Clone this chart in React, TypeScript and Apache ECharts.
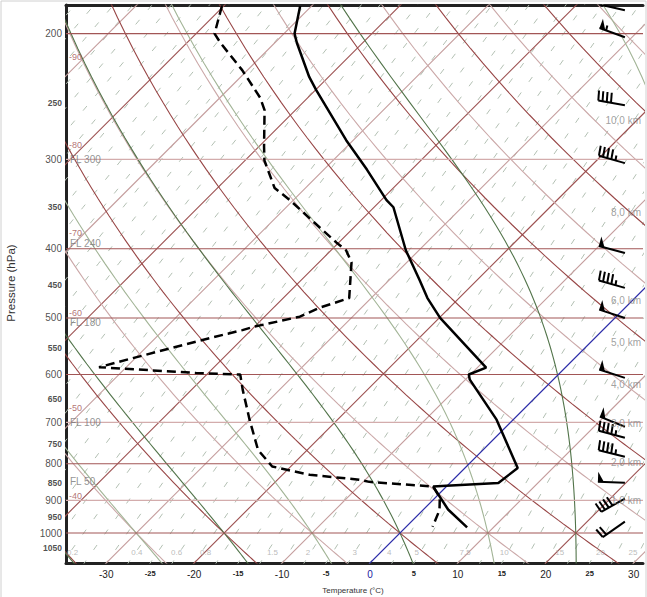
import React, { useEffect, useRef } from 'react';
import * as echarts from 'echarts';

// frame of the diagram
const P_TOP = 182.4;
const P_BOTTOM = 1101.4;
const T_MIN = -34.58;
const T_MAX = 31.06;
const SKEW = 35.3; // °C of horizontal shift per ln(p)
const BARB_X = 29.0;
const KM_X = 30.83;
const MIX_LABEL_P = 1065;

// axis ticks
const pressureTicks = [200, 250, 300, 350, 400, 450, 500, 550, 600, 650, 700, 750, 800, 850, 900, 950, 1000, 1050];
const temperatureTicks = [-30, -25, -20, -15, -10, -5, 0, 5, 10, 15, 20, 25, 30];

// background lines
const isobars = [200, 300, 400, 500, 600, 700, 800, 900, 1000];
const lightIsobars = [300, 700, 900];
const isotherms = [-100, -90, -80, -70, -60, -50, -40, -30, -20, -10, 0, 10, 20, 30];
const isothermLabels = [-90, -80, -70, -60, -50, -40];
const dryAdiabats = [-40, -30, -20, -10, 0, 10, 20, 30, 40, 50, 60, 70, 80, 90, 100, 110, 120];
const moistAdiabats = [-40, -30, -20, -10, 0, 10, 20, 30, 40];
const mixingRatioLabels = [0.2, 0.4, 0.6, 0.8, 1.5, 2, 3, 4, 5, 7.5, 10, 15, 20, 25];

const flightLevelNames = ['FL 300', 'FL 240', 'FL 180', 'FL 100', 'FL 50'];
const flightLevelPressures = [300, 394, 507, 700, 848];
const heightNames = ['10,0 km', '8,0 km', '6,0 km', '5,0 km', '4,0 km', '3,0 km', '2,0 km', '1,0 km'];
const heightPressures = [265, 356, 472, 541, 619, 702, 797, 900];

// sounding
const tempPressure = [183, 200, 206, 230, 240, 282, 310, 342, 350, 402, 442, 469, 500, 587, 600, 610, 694, 811, 851, 859, 861, 927, 982];
const tempValues = [-71.3, -68.8, -67.5, -62.2, -59.9, -50.8, -45.1, -39.4, -37.8, -31.5, -26.6, -23.6, -19.9, -9.0, -10.2, -9.5, -1.9, 6.0, 5.5, -0.1, -1.5, 2.8, 7.0];
const dewPressure = [183, 200, 206, 225, 246, 256, 288, 301, 329, 342, 373, 392, 402, 418, 469, 484, 498, 515, 520, 535, 571, 586, 597, 600, 630, 694, 765, 807, 829, 842, 848, 861, 892, 929, 980];
const dewValues = [-80.2, -77.9, -76.2, -70.6, -65.4, -63.5, -59.4, -57.8, -53.5, -50.4, -44.0, -40.3, -38.3, -36.3, -32.5, -34.8, -36.0, -40.2, -41.0, -44.1, -50.6, -53.1, -41.4, -36.2, -34.2, -30.0, -25.6, -22.1, -16.9, -10.7, -9.3, -1.5, 0.5, 1.9, 3.0];

// wind barbs (hPa, direction in degrees, speed in kt)
const windPressure = [185.5, 202.4, 251.9, 303.6, 405.7, 453.9, 500, 606.5, 710, 735.7, 782, 850.4, 895.3, 964];
const windDirection = [283, 290, 280, 286, 285, 286, 288, 288, 292, 285, 284, 272, 241, 235];
const windSpeed = [55, 55, 40, 45, 50, 45, 50, 50, 50, 45, 45, 50, 40, 20];

const FONT = 'Liberation Sans, Arial, sans-serif';

const skewX = (t: number, p: number) => t + SKEW * Math.log(P_BOTTOM / p);
const satVap = (t: number) => 6.112 * Math.exp((17.67 * t) / (t + 243.5));
const dewFromVap = (e: number) => {
  const a = Math.log(e / 6.112);
  return (243.5 * a) / (17.67 - a);
};

const curveLevels: number[] = [];
for (let p = 1110; p > 175; p -= 10) curveLevels.push(p);
curveLevels.push(175);

// saturated (pseudo) adiabat through thetaW at 1000 hPa
const moistLapse = (tk: number, p: number) => {
  const Rd = 287.04, Cp = 1005.7, L = 2.501e6, eps = 0.622;
  const es = satVap(tk - 273.15);
  const rs = (eps * es) / (p - es);
  return (Rd * tk + L * rs) / (p * (Cp + (L * L * rs * eps) / (Rd * tk * tk)));
};
const moistCurve = (thetaW: number) => {
  const integrate = (dp: number, stop: (p: number) => boolean) => {
    const out: number[][] = [];
    let tk = thetaW + 273.15;
    let p = 1000;
    let n = 0;
    while (!stop(p)) {
      const k1 = moistLapse(tk, p);
      const k2 = moistLapse(tk + k1 * dp, p + dp);
      tk += 0.5 * (k1 + k2) * dp;
      p += dp;
      if (++n % 4 === 0) out.push([skewX(tk - 273.15, p), p]);
    }
    return out;
  };
  const up = integrate(-2.5, (p) => p < 175);
  const down = integrate(2.5, (p) => p > 1110);
  return [...down.reverse(), [skewX(thetaW, 1000), 1000], ...up];
};

const line = (data: number[][], color: string, width = 1, type: any = 'solid', z = 1) => ({
  type: 'line',
  data,
  symbol: 'none',
  showSymbol: false,
  silent: true,
  clip: true,
  z,
  lineStyle: { color, width, type },
});

const textSeries = (items: any[], label: any) => ({
  type: 'scatter',
  data: items,
  symbol: 'circle',
  symbolSize: 0,
  silent: true,
  clip: false,
  z: 10,
  itemStyle: { color: 'rgba(0,0,0,0)' },
  label: { show: true, fontFamily: FONT, ...label },
});

const App: React.FC = () => {
  const chartRef = useRef<HTMLDivElement | null>(null);

  useEffect(() => {
    if (!chartRef.current) return;
    const chart = echarts.init(chartRef.current, undefined, { renderer: 'svg' });

    const series: any[] = [];

    // mixing ratio field (dashed)
    for (let tb = -90; tb <= 32.5; tb += 2.5) {
      const es = satVap(tb);
      const w = (622 * es) / (P_BOTTOM - es);
      const pts = [1110, 1000, 900, 800, 700, 600, 500, 420, 350, 290, 240, 200, 175].map((p) => {
        const t = dewFromVap((w * p) / (622 + w));
        return [skewX(t, p), p];
      });
      series.push(line(pts, '#b3c0b3', 1, [6, 13]));
    }

    // isotherms
    isotherms.forEach((t) => {
      const pts = [1110, 175].map((p) => [skewX(t, p), p]);
      if (t === 0) series.push(line(pts, '#2a2aa8', 1.2, 'solid', 3));
      else series.push(line(pts, t % 20 === 0 ? '#9c5050' : '#c49c9c', 1.1));
    });

    // dry adiabats
    dryAdiabats.forEach((th) => {
      const thk = th + 273.15;
      const pts = curveLevels.map((p) => [skewX(thk * Math.pow(p / 1000, 0.2857) - 273.15, p), p]);
      series.push(line(pts, th % 20 === 0 ? '#984646' : '#cba8a8', 1.1));
    });

    // moist adiabats
    moistAdiabats.forEach((tw) => {
      series.push(line(moistCurve(tw), tw % 20 === 0 ? '#52744a' : '#a2b496', 1.1));
    });

    // isobars
    isobars.forEach((p) => {
      series.push(line([[T_MIN, p], [T_MAX, p]], lightIsobars.includes(p) ? '#d3acac' : '#a25656', 1.1, 'solid', 2));
    });

    // sounding
    series.push(line(tempPressure.map((p, i) => [skewX(tempValues[i], p), p]), '#000', 2.5, 'solid', 5));
    series.push(line(dewPressure.map((p, i) => [skewX(dewValues[i], p), p]), '#000', 2.5, [9, 5], 5));

    // wind barbs
    series.push({
      type: 'custom',
      coordinateSystem: 'cartesian2d',
      silent: true,
      clip: true,
      z: 6,
      data: windPressure.map((p, i) => [BARB_X, p, windDirection[i], windSpeed[i]]),
      renderItem: (params: any, api: any) => {
        const [sx, sy] = api.coord([api.value(0), api.value(1)]);
        const rad = (api.value(2) * Math.PI) / 180;
        const ux = Math.sin(rad);
        const uy = -Math.cos(rad);
        const px = -uy;
        const py = ux;
        const L = 27;
        const at = (d: number, h = 0) => [sx + ux * d + px * h, sy + uy * d + py * h];
        const stroke = { stroke: '#000', lineWidth: 2 };
        const children: any[] = [];
        const [tx, ty] = at(L);
        children.push({ type: 'line', shape: { x1: sx, y1: sy, x2: tx, y2: ty }, style: stroke });
        let rem = Math.round(api.value(3) / 5) * 5;
        let d = L;
        while (rem >= 50) {
          children.push({ type: 'polygon', shape: { points: [at(d), at(d - 6), at(d, 10)] }, style: { fill: '#000' } });
          d -= 7;
          rem -= 50;
        }
        while (rem >= 10) {
          const [a1, a2] = at(d);
          const [b1, b2] = at(d + 1, 10);
          children.push({ type: 'line', shape: { x1: a1, y1: a2, x2: b1, y2: b2 }, style: stroke });
          d -= 4.3;
          rem -= 10;
        }
        if (rem >= 5) {
          if (d === L) d -= 4.3;
          const [a1, a2] = at(d);
          const [b1, b2] = at(d + 0.5, 5);
          children.push({ type: 'line', shape: { x1: a1, y1: a2, x2: b1, y2: b2 }, style: stroke });
        }
        return { type: 'group', children };
      },
    });

    // texts
    series.push(
      textSeries(
        pressureTicks.map((p) => ({
          value: [T_MIN, p],
          label: {
            formatter: String(p),
            fontSize: p % 100 === 0 ? 10 : 8.5,
            fontWeight: p % 100 === 0 ? 'normal' : 'bold',
          },
        })),
        { position: 'left', distance: 4, color: '#222' }
      )
    );
    series.push(
      textSeries(
        isothermLabels.map((t) => ({
          value: [T_MIN, P_BOTTOM * Math.exp(-(T_MIN - t) / SKEW)],
          label: { formatter: String(t), offset: [0, t === -60 ? -27 : -19] },
        })),
        { position: 'right', distance: 3, color: '#a05050', fontSize: 9 }
      )
    );
    series.push(
      textSeries(
        flightLevelNames.map((name, i) => ({ value: [T_MIN, flightLevelPressures[i]], label: { formatter: name } })),
        { position: 'right', distance: 4, color: '#777', fontSize: 10 }
      )
    );
    series.push(
      textSeries(
        heightNames.map((name, i) => ({ value: [KM_X, heightPressures[i]], label: { formatter: name } })),
        { position: 'left', distance: 0, color: '#888', fontSize: 10 }
      )
    );
    series.push(
      textSeries(
        mixingRatioLabels.map((w) => ({
          value: [skewX(dewFromVap((w * MIX_LABEL_P) / (622 + w)), MIX_LABEL_P), MIX_LABEL_P],
          label: { formatter: String(w) },
        })),
        { position: 'left', distance: 2, color: '#aaa', fontSize: 8 }
      )
    );

    const option = {
      animation: false,
      backgroundColor: '#fff',
      textStyle: { fontFamily: FONT },
      grid: { left: 66, right: 4, top: 5, bottom: 34 },
      xAxis: [
        {
          type: 'value',
          min: T_MIN,
          max: T_MAX,
          axisLine: { show: true, onZero: false, lineStyle: { color: '#222', width: 3 } },
          axisTick: { show: false },
          splitLine: { show: false },
          axisLabel: {
            customValues: temperatureTicks,
            margin: 6,
            formatter: (v: number) => (v === 0 ? '{zero|0}' : v % 10 === 0 ? `{big|${v}}` : `{small|${v}}`),
            rich: {
              big: { fontSize: 10, color: '#222', fontFamily: FONT },
              small: { fontSize: 7.5, color: '#222', fontWeight: 'bold', fontFamily: FONT },
              zero: { fontSize: 10, color: '#1a1aa0', fontFamily: FONT },
            },
          },
        },
        {
          type: 'value',
          position: 'top',
          min: T_MIN,
          max: T_MAX,
          axisLine: { show: true, onZero: false, lineStyle: { color: '#222', width: 3 } },
          axisTick: { show: false },
          axisLabel: { show: false },
          splitLine: { show: false },
        },
      ],
      yAxis: {
        type: 'log',
        inverse: true,
        min: P_TOP,
        max: P_BOTTOM,
        position: 'left',
        axisLine: { show: true, onZero: false, lineStyle: { color: '#222', width: 3 } },
        axisTick: { show: false },
        axisLabel: { show: false },
        splitLine: { show: false },
      },
      graphic: [
        {
          type: 'rect',
          shape: { x: 1, y: 1, width: 645, height: 620 },
          style: { fill: 'none', stroke: '#d0d0d0', lineWidth: 1 },
          silent: true,
        },
        {
          type: 'text',
          x: 11,
          y: 283,
          rotation: Math.PI / 2,
          style: {
            text: 'Pressure (hPa)',
            fontSize: 11.5,
            fontFamily: FONT,
            fill: '#333',
            align: 'center',
            verticalAlign: 'middle',
            textAlign: 'center',
            textVerticalAlign: 'middle',
          },
        },
        {
          type: 'text',
          x: 353,
          y: 590,
          style: {
            text: 'Temperature (°C)',
            fontSize: 8,
            fontFamily: FONT,
            fill: '#333',
            align: 'center',
            verticalAlign: 'middle',
            textAlign: 'center',
            textVerticalAlign: 'middle',
          },
        },
      ],
      series,
    };

    chart.setOption(option as any);
    return () => {
      chart.dispose();
    };
  }, []);

  return (
    <div
      ref={chartRef}
      style={{ position: 'absolute', left: 0, top: 0, width: '647px', height: '597px' }}
    />
  );
};

export default App;
